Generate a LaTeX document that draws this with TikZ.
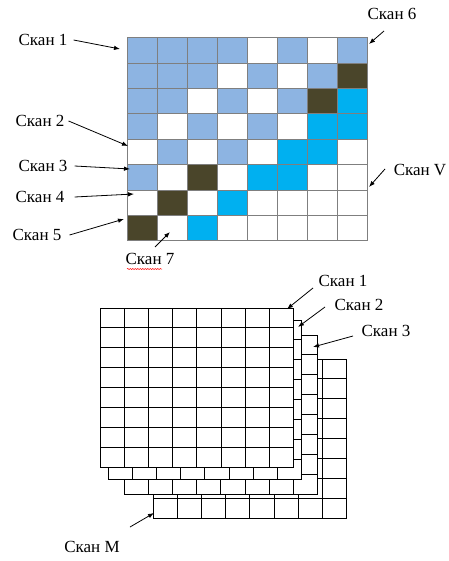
\documentclass[tikz,border=0pt]{standalone}
\usepackage{fontspec}
\setmainfont{Liberation Serif}
\usetikzlibrary{arrows.meta,decorations.pathmorphing}
\definecolor{cL}{HTML}{8DB4E2}
\definecolor{cC}{HTML}{00B0F0}
\definecolor{cD}{HTML}{4A452A}
\definecolor{cW}{HTML}{FFFFFF}
\definecolor{gline}{HTML}{7F7F7F}
\begin{document}
\begin{tikzpicture}[x=1pt,y=-1pt,
  lbl/.style={font=\fontsize{17}{19}\selectfont, inner sep=1pt},
  arr/.style={-{Latex[length=6pt,width=4.5pt]}, line width=0.8pt, black},
  cellbox/.style={draw=gline, line width=0.8pt},
  gridbox/.style={draw=black, fill=white, line width=1pt}]
\useasboundingbox (0,0) rectangle (448,561);
\fill[white] (0,0) rectangle (448,561);
% ---------- top coloured grid ----------
\def\xo{127.7}\def\yo{37.7}\def\cw{30}\def\ch{25.375}
\foreach \cols [count=\r] in {
  {cL,cL,cL,cL,cW,cL,cW,cL},
  {cL,cL,cL,cW,cL,cW,cL,cD},
  {cL,cL,cW,cL,cW,cL,cD,cC},
  {cL,cW,cL,cW,cL,cW,cC,cC},
  {cW,cL,cW,cL,cW,cC,cC,cW},
  {cL,cW,cD,cW,cC,cC,cW,cW},
  {cW,cD,cW,cC,cW,cW,cW,cW},
  {cD,cW,cC,cW,cW,cW,cW,cW}}{
  \foreach \c [count=\i] in \cols {
    \path[fill=\c, cellbox] ({\xo+(\i-1)*\cw},{\yo+(\r-1)*\ch}) rectangle ++(\cw,\ch);
  }
}
\coordinate (tA1) at (120,49);
\coordinate (tA2) at (128,146);
\coordinate (tA3) at (130,169);
\coordinate (tA4) at (134,194);
\coordinate (tA5) at (124,219);
\coordinate (tA6) at (369,44);
\coordinate (tA7) at (170,232);
\coordinate (tAV) at (369,187);
\node[lbl] (t1) at (43,40) {Скан 1};
\node[lbl] (t2) at (40,121) {Скан 2};
\node[lbl] (t3) at (43,166) {Скан 3};
\node[lbl] (t4) at (40,197) {Скан 4};
\node[lbl] (t5) at (37,235) {Скан 5};
\node[lbl] (t6) at (392,14) {Скан 6};
\node[lbl] (t7) at (150,259) {Скан 7};
\node[lbl] (tV) at (420,170) {Скан V};
\draw[red, line width=0.5pt, decorate, decoration={snake, amplitude=0.6pt, segment length=2.5pt}] (127,269) -- (162,269);
\draw[arr] ([xshift=5pt]t1.east) -- (tA1);
\draw[arr] ([xshift=3pt]t2.east) -- (tA2);
\draw[arr] ([xshift=6pt]t3.east) -- (tA3);
\draw[arr] ([xshift=9pt]t4.east) -- (tA4);
\draw[arr] ([xshift=7pt]t5.east) -- (tA5);
\draw[arr] (384,31) -- (tA6);
\draw[arr] (155,247) -- (tA7);
\draw[arr] (385,169) -- (tAV);
% ---------- bottom stacked grids ----------
\def\gw{24.2}\def\gh{19.875}
\foreach \gx/\gy in {153/359, 124/335, 108/320, 100/308}{
  \draw[gridbox] (\gx,\gy) rectangle ++({8*\gw},{8*\gh});
  \foreach \k in {1,...,7}{
    \draw[black, line width=1pt] ({\gx+\k*\gw},\gy) -- ++(0,{8*\gh});
    \draw[black, line width=1pt] (\gx,{\gy+\k*\gh}) -- ++({8*\gw},0);
  }
}
\coordinate (bA1) at (287,309);
\coordinate (bA2) at (298,327);
\coordinate (bA3) at (313,347);
\coordinate (bAM) at (154,513);
\node[lbl] (b1) at (343,281) {Скан 1};
\node[lbl] (b2) at (359,305) {Скан 2};
\node[lbl] (b3) at (386,331) {Скан 3};
\node[lbl] (bM) at (92,547) {Скан М};
\draw[arr] (313,288) -- (bA1);
\draw[arr] (325,307) -- (bA2);
\draw[arr] (353,336) -- (bA3);
\draw[arr] (130,527) -- (bAM);
\end{tikzpicture}
\end{document}
